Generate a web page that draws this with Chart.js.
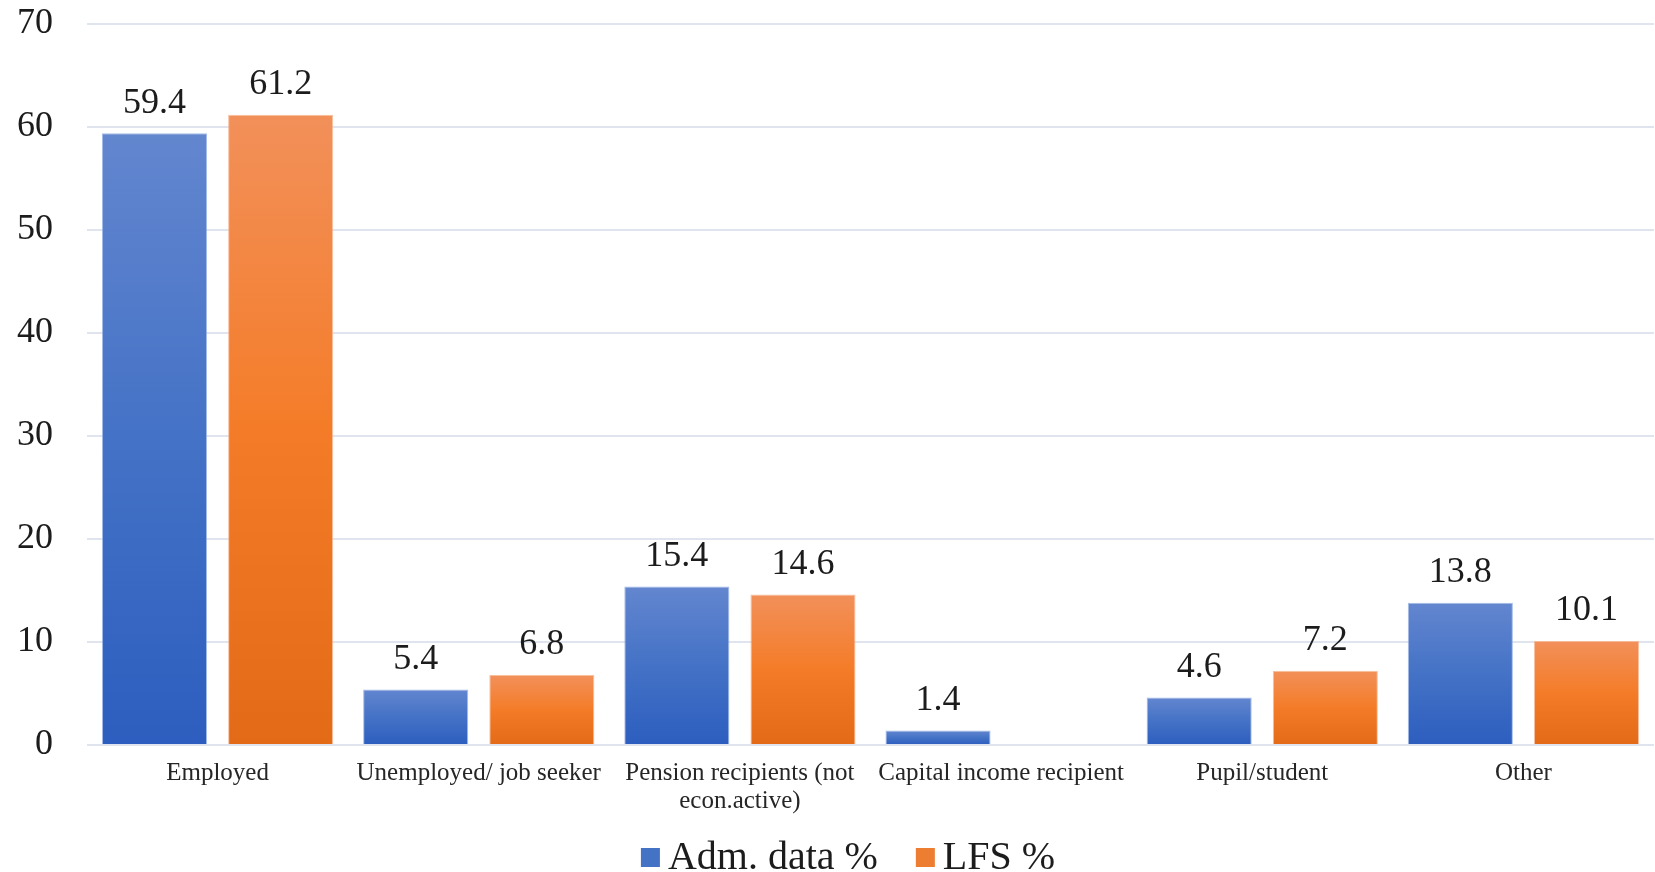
<!DOCTYPE html>
<html>
<head>
<meta charset="utf-8">
<style>
  html, body { margin: 0; padding: 0; background: #ffffff; }
  #wrap { width: 1655px; height: 872px; position: relative; }
</style>
<script src="https://cdn.jsdelivr.net/npm/chart.js@4.4.1/dist/chart.umd.min.js"></script>
</head>
<body>
<div id="wrap"><canvas id="c" width="1655" height="872"></canvas></div>
<script>
const categories = [
  "Employed",
  "Unemployed/ job seeker",
  ["Pension recipients (not", "econ.active)"],
  "Capital income recipient",
  "Pupil/student",
  "Other"
];
const admData = [59.4, 5.4, 15.4, 1.4, 4.6, 13.8];
const lfsData = [61.2, 6.8, 14.6, null, 7.2, 10.1];
const seriesNames = ["Adm. data %", "LFS %"];
const yTicks = [0, 10, 20, 30, 40, 50, 60, 70];

const SERIF = "'Liberation Serif', 'Times New Roman', 'DejaVu Serif', serif";
const blueStops = ['#6386cf', '#4472c6', '#2d5ebf'];
const orangeStops = ['#f2905a', '#f47c28', '#e36a17'];
const solidColors = ['#4472c4', '#ed7d31'];

function gradFill(stops, solid) {
  return function (ctx) {
    const chart = ctx.chart;
    if (!chart.chartArea || ctx.type !== 'data') return solid;
    const v = ctx.raw;
    if (v === null || v === undefined) return solid;
    const y = chart.scales.y;
    const top = y.getPixelForValue(v);
    const bottom = y.getPixelForValue(0);
    if (!isFinite(top) || !isFinite(bottom) || bottom - top < 1) return solid;
    const g = chart.ctx.createLinearGradient(0, top, 0, bottom);
    g.addColorStop(0, stops[0]);
    g.addColorStop(0.5, stops[1]);
    g.addColorStop(1, stops[2]);
    return g;
  };
}

const valueLabels = {
  id: 'valueLabels',
  afterDatasetsDraw(chart) {
    const c = chart.ctx;
    c.save();
    c.font = "36px " + SERIF;
    c.fillStyle = '#1c1c1c';
    c.textAlign = 'center';
    c.textBaseline = 'middle';
    chart.data.datasets.forEach((ds, di) => {
      const meta = chart.getDatasetMeta(di);
      meta.data.forEach((el, i) => {
        const v = ds.data[i];
        if (v === null || v === undefined) return;
        c.fillText(v.toFixed(1), el.x, el.y - 30);
      });
    });
    c.restore();
  }
};

const customLegend = {
  id: 'customLegend',
  afterDraw(chart) {
    const c = chart.ctx;
    c.save();
    c.font = "40px " + SERIF;
    const box = 19, gapText = 8, gapItem = 38;
    const widths = chart.data.datasets.map(ds => c.measureText(ds.label).width);
    let total = 0;
    widths.forEach((w, i) => { total += box + gapText + w + (i < widths.length - 1 ? gapItem : 0); });
    let x = 848 - total / 2;
    const baseline = 869;
    const boxTop = 848;
    chart.data.datasets.forEach((ds, i) => {
      c.fillStyle = solidColors[i];
      c.fillRect(x, boxTop, box, box);
      x += box + gapText;
      c.fillStyle = '#1c1c1c';
      c.textAlign = 'left';
      c.textBaseline = 'alphabetic';
      c.fillText(ds.label, x, baseline);
      x += widths[i] + gapItem;
    });
    c.restore();
  }
};

new Chart(document.getElementById('c'), {
  type: 'bar',
  data: {
    labels: categories,
    datasets: [
      {
        label: seriesNames[0],
        data: admData,
        backgroundColor: gradFill(blueStops, solidColors[0]),
        borderColor: 'rgba(140,170,225,0.8)',
        borderWidth: 1,
        barPercentage: 0.833,
        categoryPercentage: 0.966
      },
      {
        label: seriesNames[1],
        data: lfsData,
        backgroundColor: gradFill(orangeStops, solidColors[1]),
        borderColor: 'rgba(248,175,135,0.8)',
        borderWidth: 1,
        barPercentage: 0.833,
        categoryPercentage: 0.966
      }
    ]
  },
  options: {
    responsive: false,
    animation: false,
    devicePixelRatio: 1,
    layout: { padding: { top: 24, right: 1, bottom: 0, left: 0 } },
    plugins: {
      legend: { display: false },
      tooltip: { enabled: false }
    },
    scales: {
      x: {
        grid: { display: false, drawTicks: false },
        border: { display: false },
        ticks: {
          font: { family: SERIF, size: 25, lineHeight: 1.12 },
          color: '#262626',
          padding: 14,
          maxRotation: 0,
          autoSkip: false
        },
        afterFit(scale) { scale.height = 127; }
      },
      y: {
        min: 0,
        max: 70,
        afterBuildTicks(scale) { scale.ticks = yTicks.map(v => ({ value: v })); },
        grid: { color: '#dfe4ee', lineWidth: 2, drawTicks: false },
        border: { display: false },
        ticks: {
          font: { family: SERIF, size: 36 },
          color: '#1c1c1c',
          padding: 34
        },
        afterFit(scale) {
          scale.width = 87;
          scale.paddingTop = 20;
          scale.paddingBottom = 0;
        }
      }
    }
  },
  plugins: [valueLabels, customLegend]
});
</script>
</body>
</html>
